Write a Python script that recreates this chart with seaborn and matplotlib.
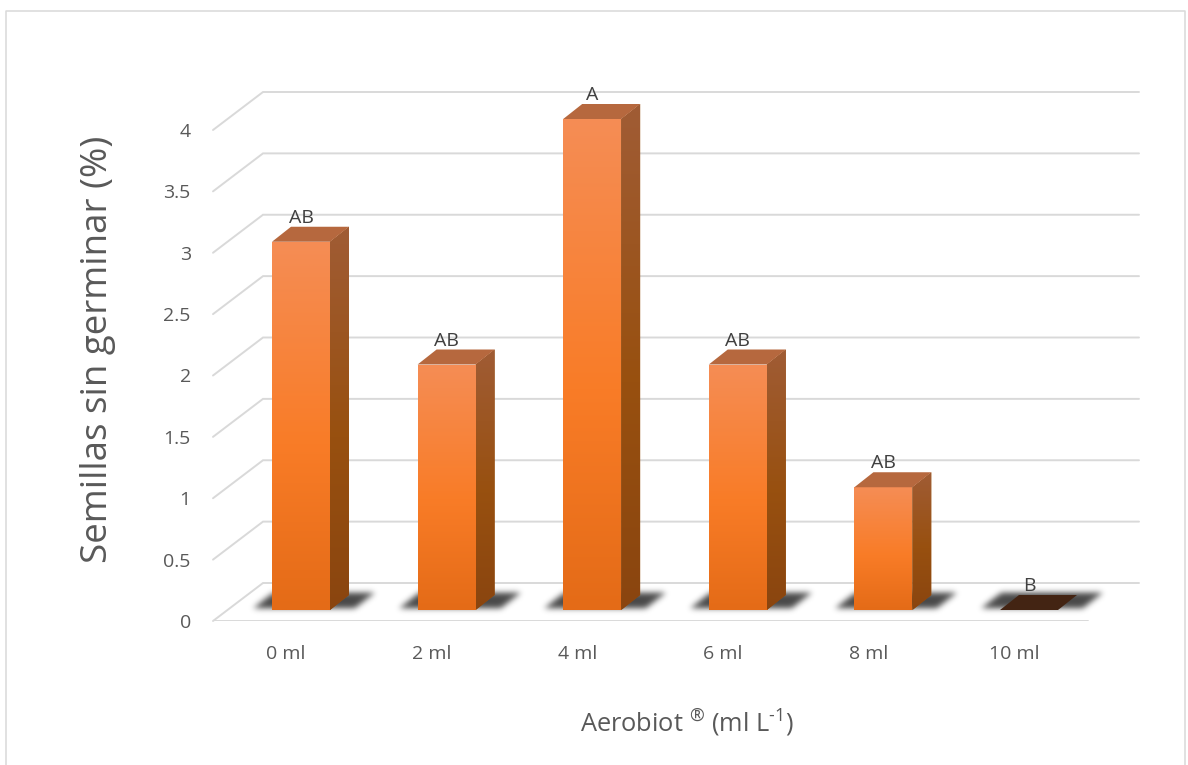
#!/usr/bin/env python3

import numpy as np
import pandas as pd
import seaborn as sns
import matplotlib
matplotlib.use('Agg')
from matplotlib import pyplot as plt
from matplotlib.colors import LinearSegmentedColormap
from matplotlib.lines import Line2D
from matplotlib.patches import Polygon
from matplotlib.transforms import ScaledTranslation

categories = ['0 ml', '2 ml', '4 ml', '6 ml', '8 ml', '10 ml']
values = [3, 2, 4, 2, 1, 0]
letters = ['AB', 'AB', 'A', 'AB', 'AB', 'B']
y_ticks = [0, 0.5, 1, 1.5, 2, 2.5, 3, 3.5, 4]
y_tick_labels = ['0', '0.5', '1', '1.5', '2', '2.5', '3', '3.5', '4']

W, H = 1188, 765
GRID = '#d9d9d9'
TEXT = '#595959'
PX_X = 145.6      # pixels per category
PX_Y = 122.75     # pixels per unit
DX, DY = 19 / PX_X, 15 / PX_Y   # bar depth, data units

sns.set_theme(style='white')
plt.rcParams['font.family'] = ['Open Sans', 'DejaVu Sans']
plt.rcParams['mathtext.fontset'] = 'custom'
plt.rcParams['mathtext.rm'] = 'Open Sans'
plt.rcParams['mathtext.default'] = 'regular'

fig = plt.figure(figsize=(W / 100, H / 100), dpi=100)
ax = fig.add_axes([213 / W, 1 - 621 / H, (1139 - 213) / W, (621 - 93) / H])

df = pd.DataFrame({'dose': categories, 'value': values})
sns.barplot(data=df, x='dose', y='value', ax=ax, width=58 / PX_X, color='#f97c27',
            linewidth=0, zorder=4)

xlim = ((213 - 301) / PX_X, (1139 - 301) / PX_X)
ylim = (-11 / PX_Y, (610 - 93) / PX_Y)
ax.set_xlim(xlim)
ax.set_ylim(ylim)
sns.despine(ax=ax, left=True, bottom=True, top=True, right=True)

# walls and floor, offsets from the plane the bars stand on
back_x0, back_x1 = xlim[0] + 50 / PX_X, xlim[1]
front_dy, back_dy = -11 / PX_Y, 27 / PX_Y
for v in y_ticks:
    ax.plot([xlim[0], back_x0, back_x1], [v + front_dy, v + back_dy, v + back_dy],
            color=GRID, lw=1.4, zorder=1, clip_on=False, solid_joinstyle='miter')
ax.plot([xlim[0], xlim[0] + 875 / PX_X], [front_dy, front_dy], color=GRID, lw=1.4, zorder=1)

top_map = LinearSegmentedColormap.from_list(
    'front', [(0, '#f58d55'), (0.55, '#f97c27'), (1, '#e46b17')])
side_map = LinearSegmentedColormap.from_list(
    'side', [(0, '#a05c35'), (0.55, '#98500f'), (1, '#8a4510')])
ramp = np.linspace(0, 1, 256).reshape(-1, 1)


def floor_shadow(center):
    # soft parallelogram under a bar
    u = np.arange(-75, 96)
    w = np.arange(-8, 34)
    uu, ww = np.meshgrid(u, w)
    left = -50 + ww * 1.27
    mask = ((uu > left) & (uu < left + 102) & (ww > 1) & (ww < 18)).astype(float)
    kernel = np.exp(-np.arange(-10, 11) ** 2 / (2 * 3.0 ** 2))
    kernel /= kernel.sum()
    mask = np.apply_along_axis(lambda r: np.convolve(r, kernel, mode='same'), 1, mask)
    mask = np.apply_along_axis(lambda r: np.convolve(r, kernel, mode='same'), 0, mask)
    rgba = np.zeros(mask.shape + (4,))
    rgba[..., 3] = mask * 0.72
    ax.imshow(rgba, origin='lower', aspect='auto', zorder=2, interpolation='bilinear',
              extent=(center + u[0] / PX_X, center + u[-1] / PX_X, w[0] / PX_Y, w[-1] / PX_Y))


half = 29 / PX_X
for i, (val, bar) in enumerate(zip(values, ax.patches)):
    floor_shadow(i)
    l, r = i - half, i + half
    if val == 0:
        ax.add_patch(Polygon([(l, 0), (r, 0), (r + DX, DY), (l + DX, DY)],
                             facecolor='#432413', edgecolor='none', zorder=5))
    else:
        face = ax.imshow(ramp, cmap=top_map, origin='upper', aspect='auto', zorder=5,
                         extent=(l, r, 0, val))
        face.set_clip_path(bar)
        side = Polygon([(r, 0), (r + DX, DY), (r + DX, val + DY), (r, val)],
                       facecolor='#98500f', edgecolor='none', zorder=4)
        ax.add_patch(side)
        side_im = ax.imshow(ramp, cmap=side_map, origin='upper', aspect='auto', zorder=5,
                            extent=(r, r + DX, 0, val + DY))
        side_im.set_clip_path(side)
        ax.add_patch(Polygon([(l, val), (r, val), (r + DX, val + DY), (l + DX, val + DY)],
                             facecolor='#b6683e', edgecolor='none', zorder=5))
    ax.annotate(letters[i], (i, val), xytext=(0, 24), textcoords='offset pixels',
                ha='center', va='center', fontsize=14, color='#404040', zorder=6,
                annotation_clip=False)
ax.set_xlim(xlim)
ax.set_ylim(ylim)

ax.set_yticks(y_ticks)
ax.set_yticklabels(y_tick_labels)
ax.set_xticks(range(len(categories)))
ax.set_xticklabels(categories)
ax.tick_params(axis='y', length=0, pad=16, labelsize=14, labelcolor=TEXT)
ax.tick_params(axis='x', length=0, pad=17, labelsize=14, labelcolor=TEXT)

# tick labels sit on the front plane, not the bar plane
y_shift = ScaledTranslation(0, -11 / 100, fig.dpi_scale_trans)
for label in ax.get_yticklabels():
    label.set_transform(label.get_transform() + y_shift)
x_shift = ScaledTranslation(-15 / 100, 0, fig.dpi_scale_trans)
for label in ax.get_xticklabels():
    label.set_transform(label.get_transform() + x_shift)

ax.set_xlabel(r'Aerobiot $^{\text{®}}$ (ml L$^{\text{-}1}$)', fontsize=18.3, color=TEXT)
ax.set_ylabel('Semillas sin germinar (%)', fontsize=26.5, color=TEXT)
ax.xaxis.set_label_coords(687 / W, 1 - 722 / H, transform=fig.transFigure)
ax.yaxis.set_label_coords(98 / W, 1 - 349 / H, transform=fig.transFigure)
ax.xaxis.label.set_va('center')
ax.yaxis.label.set_va('center')

# chart frame, runs off the bottom of the image
fig.add_artist(Line2D([5.5 / W, 5.5 / W, 1185 / W, 1185 / W], [0, 1 - 11 / H, 1 - 11 / H, 0],
                      color=GRID, lw=1.1))

plt.savefig('out.png', dpi=100)
